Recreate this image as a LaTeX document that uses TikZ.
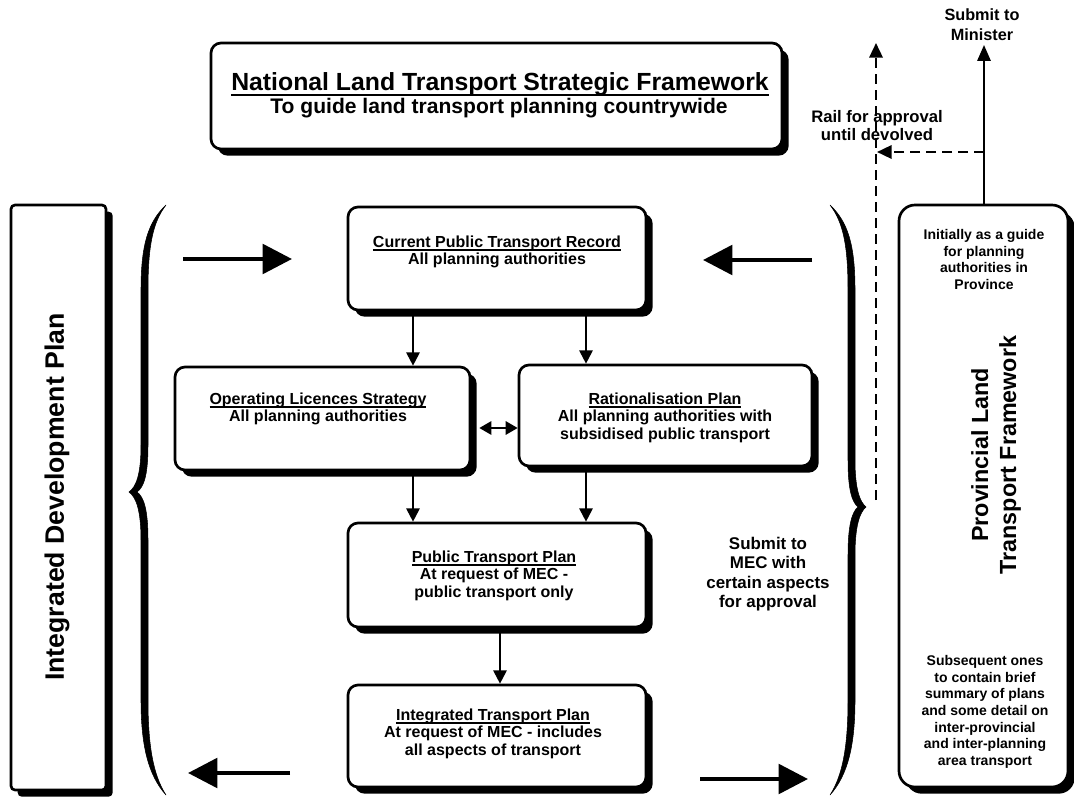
\documentclass[tikz,border=0pt]{standalone}
\usepackage{fontspec}
\setmainfont{Liberation Sans}
\usetikzlibrary{arrows.meta,shadows,fit}
\newcommand\fsz[2]{\fontsize{#1}{#2}\selectfont}
\newcommand\ul[1]{\setbox0\hbox{#1}\rlap{\rule[-0.2em]{\wd0}{0.08em}}\box0}
\begin{document}
\begin{tikzpicture}[x={(0.75pt,0)},y={(0,-0.75pt)},
  box/.style={draw, line width=2pt, rounded corners=7.5pt, fill=white, inner sep=0pt,
    general shadow={fill=black, shadow xshift=5pt, shadow yshift=-5pt}},
  txt/.style={anchor=north, inner sep=0pt, align=center, font=\bfseries\fsz{12}{13.2}},
  arr/.style={line width=1.5pt, -{Triangle[length=10pt,width=10pt]}},
  dbl/.style={line width=1.5pt, {Triangle[length=9pt,width=10pt]}-{Triangle[length=9pt,width=10pt]}},
  big/.style={line width=3.3pt, -{Triangle[length=22pt,width=22pt]}},
  dsh/.style={line width=1.8pt, dash pattern=on 7.5pt off 4.5pt, -{Triangle[length=11pt,width=10pt]}},
  brace/.style={fill=black, draw=black, line width=0.4pt}]
\useasboundingbox (0,0) rectangle (1074,798);

% boxes
\node[box, fit={(211,43) (782,149)}] (nat) {};
\node[box, rounded corners=3pt, fit={(11,205) (106,790)}] (idp) {};
\node[box, rounded corners=12pt, fit={(899,205) (1068,787)}] (pltf) {};
\node[box, fit={(348,207) (646,310)}] (cptr) {};
\node[box, fit={(175,367) (470,470)}] (ols) {};
\node[box, fit={(519,365) (812,466)}] (rp) {};
\node[box, fit={(348,523) (646,627)}] (ptp) {};
\node[box, fit={(348,685) (646,787)}] (itp) {};

% texts
\node[anchor=base, inner sep=0pt, font=\bfseries\fsz{18.6}{20}] (natA) at (500,91) {\ul{National Land Transport Strategic Framework}};
\node[anchor=base, inner sep=0pt, font=\bfseries\fsz{15.8}{18}] (natB) at (499,114) {To guide land transport planning countrywide};
\node[txt] (cptrT) at (497,235.5) {\ul{Current Public Transport Record}\\All planning authorities};
\node[txt] (olsT) at (318,392.5) {\ul{Operating Licences Strategy}\\All planning authorities};
\node[txt] (rpT) at (665,392.5) {\ul{Rationalisation Plan}\\All planning authorities with\\subsidised public transport};
\node[txt] (ptpT) at (494,550.5) {\ul{Public Transport Plan}\\At request of MEC -\\public transport only};
\node[txt] (itpT) at (493,708.5) {\ul{Integrated Transport Plan}\\At request of MEC - includes\\all aspects of transport};
\node[rotate=90, inner sep=0pt, font=\bfseries\fsz{20}{24}] (idpT) at (57,497) {Integrated Development Plan};
\node[rotate=90, inner sep=0pt, align=center, font=\bfseries\fsz{17.5}{21}] (pltfT) at (996,455) {Provincial Land\\Transport Framework};
\node[txt, font=\bfseries\fsz{10.5}{12.5}] (pltfA) at (984,229) {Initially as a guide\\for planning\\authorities in\\Province};
\node[txt, font=\bfseries\fsz{10.5}{12.5}] (pltfB) at (985,655) {Subsequent ones\\to contain brief\\summary of plans\\and some detail on\\inter-provincial\\and inter-planning\\area transport};
\node[txt, font=\bfseries\fsz{12.7}{14.5}] (mec) at (768,537) {Submit to\\MEC with\\certain aspects\\for approval};
\node[txt, font=\bfseries\fsz{12.2}{15}] (min) at (982,8) {Submit to\\Minister};
\node[txt, font=\bfseries\fsz{12.5}{13.5}] (rail) at (877,110) {Rail for approval\\until devolved};

% braces
\path[brace] (166,205) .. controls (148,222) and (141,245) .. (141,290)
  -- (141,445) .. controls (141,475) and (136,487) .. (129,492)
  .. controls (136,497) and (141,510) .. (141,540)
  -- (141,700) .. controls (141,745) and (148,775) .. (166,795)
  .. controls (153,775) and (148,745) .. (148,700)
  -- (148,540) .. controls (148,510) and (144,497) .. (137,492)
  .. controls (144,487) and (148,475) .. (148,445)
  -- (148,290) .. controls (148,245) and (153,222) .. (166,205) -- cycle;
\path[brace] (830,205) .. controls (848,222) and (855,245) .. (855,290)
  -- (855,460) .. controls (855,490) and (860,502) .. (866,507)
  .. controls (860,512) and (855,525) .. (855,555)
  -- (855,700) .. controls (855,745) and (848,775) .. (830,795)
  .. controls (843,775) and (848,745) .. (848,700)
  -- (848,555) .. controls (848,525) and (852,512) .. (858,507)
  .. controls (852,502) and (848,490) .. (848,460)
  -- (848,290) .. controls (848,245) and (843,222) .. (830,205) -- cycle;

% connector x/y helpers
\coordinate (xl) at (413,0);
\coordinate (xr) at (586,0);
\coordinate (xm) at (500,0);
\coordinate (yd) at (0,428);
\draw[arr] (cptr.south -| xl) -- (ols.north -| xl);
\draw[arr] (cptr.south -| xr) -- (rp.north -| xr);
\draw[dbl] ([xshift=6pt]ols.east |- yd) -- (rp.west |- yd);
\draw[arr] (ols.south -| xl) -- (ptp.north -| xl);
\draw[arr] (rp.south -| xr) -- (ptp.north -| xr);
\draw[arr] (ptp.south -| xm) -- (itp.north -| xm);

% big arrows
\coordinate (b1s) at (183,259); \coordinate (b1e) at (292,259);
\coordinate (b2s) at (812,260); \coordinate (b2e) at (703,260);
\coordinate (b3s) at (290,773); \coordinate (b3e) at (188,773);
\coordinate (b4s) at (700,779); \coordinate (b4e) at (808,779);
\draw[big] (b1s) -- (b1e);
\draw[big] (b2s) -- (b2e);
\draw[big] (b3s) -- (b3e);
\draw[big] (b4s) -- (b4e);

% top right
\coordinate (mx) at (984,0);
\coordinate (mtop) at (984,45);
\coordinate (dh1) at (984,152);
\coordinate (dh2) at (877,152);
\coordinate (dv1) at (876,500);
\coordinate (dv2) at (876,43);
\draw[arr, line width=1.6pt, -{Triangle[length=12pt,width=10pt]}] (pltf.north -| mx) -- (mtop);
\draw[dsh] (dh1) -- (dh2);
\draw[dsh] (dv1) -- (dv2);
\end{tikzpicture}
\end{document}
